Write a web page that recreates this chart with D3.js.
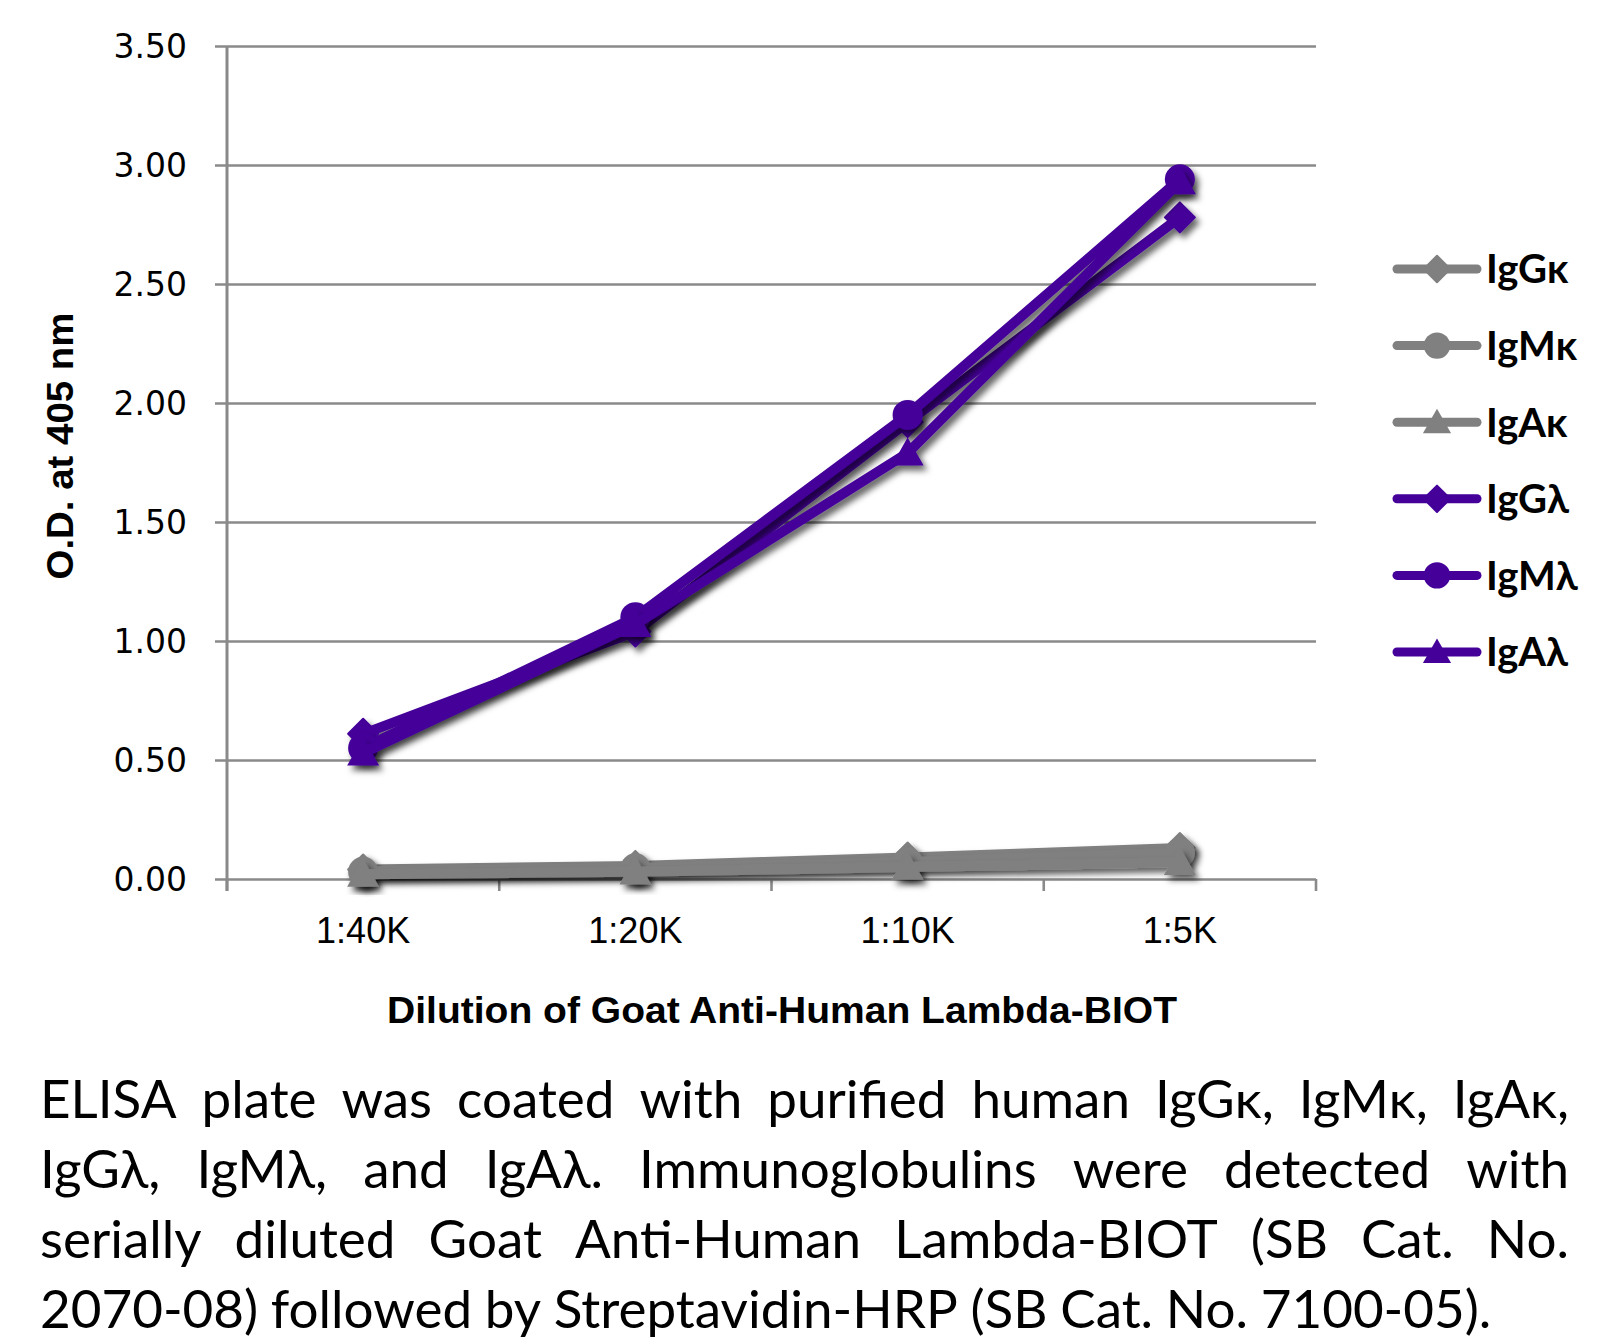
<!DOCTYPE html>
<html>
<head>
<meta charset="utf-8">
<script src="https://cdn.jsdelivr.net/npm/d3@7"></script>
<style>
html,body{margin:0;padding:0;background:#fff;}
svg{display:block;}
</style>
</head>
<body>
<svg id="chart" width="1608" height="1344"></svg>
<script>
// ---- data ----
const categories = ["1:40K", "1:20K", "1:10K", "1:5K"];
const yTicks = [0, 0.5, 1.0, 1.5, 2.0, 2.5, 3.0, 3.5];
const seriesNames = ["IgG\u03ba", "IgM\u03ba", "IgA\u03ba", "IgG\u03bb", "IgM\u03bb", "IgA\u03bb"];
const seriesMarkers = ["diamond", "circle", "triangle", "diamond", "circle", "triangle"];
const igGkappa = [0.04, 0.055, 0.09, 0.13];
const igMkappa = [0.03, 0.045, 0.07, 0.11];
const igAkappa = [0.02, 0.03, 0.05, 0.07];
const igGlambda = [0.61, 1.04, 1.92, 2.78];
const igMlambda = [0.55, 1.10, 1.95, 2.94];
const igAlambda = [0.53, 1.07, 1.79, 2.93];
const yTitle = "O.D. at 405 nm";
const xTitle = "Dilution of Goat Anti-Human Lambda-BIOT";
const captionLines = [
  "ELISA plate was coated with purified human IgG\u03ba, IgM\u03ba, IgA\u03ba,",
  "IgG\u03bb, IgM\u03bb, and IgA\u03bb.  Immunoglobulins were detected with",
  "serially diluted Goat Anti-Human Lambda-BIOT (SB Cat. No.",
  "2070-08) followed by Streptavidin-HRP (SB Cat. No. 7100-05)."
];

const seriesValues = [igGkappa, igMkappa, igAkappa, igGlambda, igMlambda, igAlambda];
const GRAY = "#808080", PURPLE = "#440099";
const seriesColors = [GRAY, GRAY, GRAY, PURPLE, PURPLE, PURPLE];

const svg = d3.select("#chart");
const defs = svg.append("defs");
const f = defs.append("filter").attr("id", "shadow")
  .attr("x", "-20%").attr("y", "-20%").attr("width", "140%").attr("height", "140%");
f.append("feDropShadow").attr("dx", 4).attr("dy", 5).attr("stdDeviation", 3)
  .attr("flood-color", "#000").attr("flood-opacity", 0.6);

// ---- layout ----
const L = 227, R = 1316, T = 46, B = 879;
const x = d3.scaleBand().domain(categories).range([L, R]);
const y = d3.scaleLinear().domain([0, 3.5]).range([B, T]);
const GRID = "#8a8a8a";

// gridlines + y labels
const yAxis = svg.append("g").attr("transform", `translate(${R},0)`)
  .call(d3.axisLeft(y).tickValues(yTicks).tickSize(R - 215).tickSizeOuter(0)
    .tickPadding(28).tickFormat(d3.format(".2f")));
yAxis.select(".domain").remove();
yAxis.selectAll("line").attr("stroke", GRID).attr("stroke-width", 2.6);
yAxis.selectAll("text").attr("font-family", "DejaVu Sans").attr("font-size", 33)
  .attr("fill", "#000").attr("dy", "0.36em");

// vertical axis line
svg.append("line").attr("x1", L).attr("x2", L).attr("y1", y(3.5)).attr("y2", B + 12)
  .attr("stroke", GRID).attr("stroke-width", 3);

// x tick marks at band boundaries
const boundaries = categories.map(c => x(c)).concat([x.range()[1]]);
svg.append("g").selectAll("line").data(boundaries).join("line")
  .attr("x1", d => d).attr("x2", d => d).attr("y1", B).attr("y2", B + 12)
  .attr("stroke", GRID).attr("stroke-width", 2.6);

// x labels
const xAxis = svg.append("g").attr("transform", `translate(0,${B})`)
  .call(d3.axisBottom(x).tickSize(0).tickPadding(38));
xAxis.select(".domain").remove();
xAxis.selectAll("text").attr("font-family", "Liberation Sans, Arial, sans-serif")
  .attr("font-size", 36).attr("fill", "#000");

// axis titles
svg.append("text").attr("transform", `translate(73,446) rotate(-90)`)
  .attr("text-anchor", "middle").attr("font-family", "Liberation Sans, Arial, sans-serif")
  .attr("font-weight", "bold").attr("font-size", 37)
  .attr("textLength", 267).attr("lengthAdjust", "spacingAndGlyphs").text(yTitle);
svg.append("text").attr("x", 782).attr("y", 1023)
  .attr("text-anchor", "middle").attr("font-family", "Liberation Sans, Arial, sans-serif")
  .attr("font-weight", "bold").attr("font-size", 37)
  .attr("textLength", 790).attr("lengthAdjust", "spacingAndGlyphs").text(xTitle);

// ---- markers ----
function drawMarker(g, type, cx, cy, color, k) {
  if (type === "circle") {
    g.append("circle").attr("cx", cx).attr("cy", cy).attr("r", 15 * k).attr("fill", color);
  } else if (type === "diamond") {
    const s = 15 * k;
    g.append("path").attr("d", `M${cx},${cy - s}L${cx + s},${cy}L${cx},${cy + s}L${cx - s},${cy}Z`)
      .attr("fill", color).attr("stroke", color).attr("stroke-width", 2).attr("stroke-linejoin", "round");
  } else {
    const w = 16 * k, h = 28 * k;
    g.append("path").attr("d", `M${cx},${cy - h*0.55}L${cx + w},${cy + h*0.45}L${cx - w},${cy + h*0.45}Z`)
      .attr("fill", color);
  }
}

const line = d3.line().x((d, i) => x(categories[i]) + x.bandwidth() / 2).y(d => y(d));

seriesValues.forEach((vals, si) => {
  const g = svg.append("g").attr("filter", "url(#shadow)");
  g.append("path").attr("d", line(vals)).attr("fill", "none")
    .attr("stroke", seriesColors[si]).attr("stroke-width", 10)
    .attr("stroke-linejoin", "round").attr("stroke-linecap", "round");
  vals.forEach((v, i) => drawMarker(g, seriesMarkers[si], x(categories[i]) + x.bandwidth() / 2, y(v), seriesColors[si], 1));
});

// ---- legend ----
const legendY = d3.scalePoint().domain(seriesNames).range([269, 652]);
seriesNames.forEach((name, si) => {
  const g = svg.append("g");
  const ly = legendY(name);
  g.append("line").attr("x1", 1397).attr("x2", 1477).attr("y1", ly).attr("y2", ly)
    .attr("stroke", seriesColors[si]).attr("stroke-width", 9).attr("stroke-linecap", "round");
  drawMarker(g, seriesMarkers[si], 1437, ly, seriesColors[si], 0.88);
  g.append("text").attr("x", 1486).attr("y", ly).attr("dy", "0.36em")
    .attr("font-family", "Lato, 'Open Sans', sans-serif").attr("font-weight", "bold")
    .attr("font-size", 40).attr("fill", "#000").text(name);
});

// ---- caption (justified) ----
const capFont = "Lato, 'Noto Sans', sans-serif";
const capLeft = 40, capRight = 1569;
const baselines = [1118, 1188, 1258, 1328];
let fs = 53;
const probe = svg.append("text").attr("font-family", capFont).attr("font-size", fs).text(captionLines[3]);
const w4 = probe.node().getComputedTextLength();
probe.remove();
fs = Math.max(44, Math.min(58, fs * 1455 / w4));

captionLines.forEach((ln, li) => {
  const words = ln.split(/ +/);
  const g = svg.append("g");
  const nodes = words.map(w => g.append("text").attr("font-family", capFont)
    .attr("font-size", fs).attr("fill", "#000").attr("y", baselines[li]).text(w));
  const widths = nodes.map(n => n.node().getComputedTextLength());
  const total = d3.sum(widths);
  const justify = li < captionLines.length - 1;
  const spaceW = fs * 0.24;
  const gap = justify ? (capRight - capLeft - total) / (words.length - 1) : spaceW;
  let cx = capLeft;
  nodes.forEach((n, i) => {
    n.attr("x", cx);
    cx += widths[i] + gap;
  });
});
</script>
</body>
</html>
